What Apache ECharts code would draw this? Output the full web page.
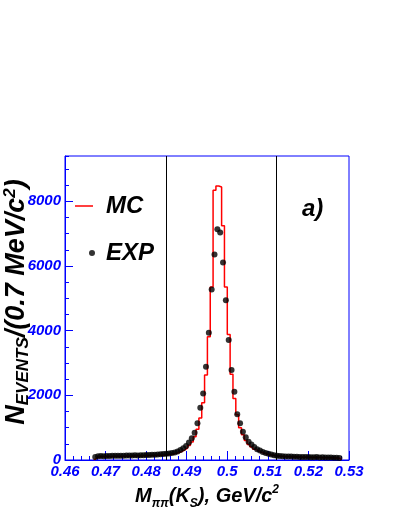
<!DOCTYPE html>
<html>
<head>
<meta charset="utf-8">
<script src="https://cdn.jsdelivr.net/npm/echarts@6/dist/echarts.min.js"></script>
<style>
html,body{margin:0;padding:0;background:#fff;}
#chart{width:399px;height:516px;}
</style>
</head>
<body>
<div id="chart"></div>
<script>
// Histogram binning (GeV/c^2)
const binStart = 0.4671;
const binWidth = 0.0007;

// MC histogram counts per bin
const mcCounts = [
  60, 95, 100, 102, 105, 104, 108, 110, 112, 112,
  115, 116, 118, 120, 122, 124, 126, 128, 130, 133,
  136, 140, 145, 150, 155, 160, 170, 185, 205, 230,
  265, 310, 370, 450, 560, 720, 950, 1300, 1770, 2625,
  3809, 5353, 8340, 8470, 8440, 7240, 5353, 3883, 2650, 1900,
  1400, 1000, 780, 600, 480, 400, 330, 280, 240, 210,
  185, 165, 150, 135, 125, 115, 108, 102, 98, 95,
  92, 90, 88, 86, 84, 82, 80, 78, 76, 74,
  72, 70, 68, 66, 64, 62, 40
];

// Experimental counts per bin
const expCounts = [
  90, 115, 120, 118, 125, 122, 130, 128, 132, 135,
  130, 138, 140, 136, 145, 142, 148, 150, 155, 152,
  160, 165, 170, 175, 182, 190, 200, 215, 235, 265,
  310, 365, 435, 540, 669, 843, 1134, 1615, 2060, 2882,
  3932, 5273, 6354, 7135, 7033, 6107, 4942, 3707, 2780, 2110,
  1412, 1134, 874, 701, 565, 480, 400, 335, 290, 250,
  220, 192, 168, 150, 135, 125, 118, 112, 110, 105,
  100, 98, 95, 96, 92, 90, 88, 85, 90, 80,
  82, 78, 75, 80, 72, 70, 65
];

// Selection cut positions
const cutLines = [0.485, 0.512];

// Axis settings
const xMin = 0.46, xMax = 0.53, xStep = 0.01;
const yMin = 0, yMax = 9400, yStep = 2000, yMinorStep = 500;

const mcData = [[binStart, 0]];
mcCounts.forEach((v, i) => mcData.push([binStart + i * binWidth, v]));
mcData.push([binStart + mcCounts.length * binWidth, mcCounts[mcCounts.length - 1]]);
mcData.push([binStart + mcCounts.length * binWidth, 0]);

const expData = expCounts.map((v, i) => [binStart + (i + 0.5) * binWidth, v]);

const FONT = '"Liberation Sans", Arial, Helvetica, sans-serif';
const BLUE = '#0000ff';

const titleRich = (big, small, lh) => ({
  b: {fontFamily: FONT, fontSize: big, fontWeight: 'bold', fontStyle: 'italic', fill: '#000', color: '#000', lineHeight: lh},
  s: {fontFamily: FONT, fontSize: small, fontWeight: 'bold', fontStyle: 'italic', fill: '#000', color: '#000', verticalAlign: 'bottom', lineHeight: small},
  p: {fontFamily: FONT, fontSize: small, fontWeight: 'bold', fontStyle: 'italic', fill: '#000', color: '#000', verticalAlign: 'top', lineHeight: small}
});

const chart = echarts.init(document.getElementById('chart'), null, {renderer: 'canvas'});
chart.setOption({
  animation: false,
  backgroundColor: '#ffffff',
  grid: {left: 65, right: 50, top: 156, bottom: 56, show: true, borderColor: BLUE, borderWidth: 1,
         backgroundColor: 'transparent', containLabel: false, outerBoundsMode: 'none'},
  xAxis: {
    type: 'value', min: xMin, max: xMax, interval: xStep,
    axisLine: {show: true, lineStyle: {color: BLUE, width: 1}},
    axisTick: {show: true, inside: true, length: 9, lineStyle: {color: BLUE}},
    minorTick: {show: true, splitNumber: 5, length: 4, lineStyle: {color: BLUE}},
    splitLine: {show: false},
    axisLabel: {
      color: BLUE, fontFamily: FONT, fontSize: 15, fontWeight: 'bold', fontStyle: 'italic', margin: 4,
      formatter: v => String(Math.round(v * 100) / 100)
    },
    name: '{b|M}{s|ππ}{b|(K}{s|S}{b|), GeV/c}{p|2}',
    nameLocation: 'middle', nameGap: 21,
    nameTextStyle: {rich: titleRich(20, 12, 26)}
  },
  yAxis: [{
    type: 'value', min: yMin, max: yMax, interval: yStep,
    axisLine: {show: true, lineStyle: {color: BLUE, width: 1}},
    axisTick: {show: true, inside: true, length: 8, lineStyle: {color: BLUE}},
    splitLine: {show: false},
    axisLabel: {
      color: BLUE, fontFamily: FONT, fontSize: 15, fontWeight: 'bold', fontStyle: 'italic', margin: 4,
      showMaxLabel: false, formatter: v => String(v)
    }
  }, {
    type: 'value', min: yMin, max: yMax, interval: yMinorStep, position: 'left',
    axisLine: {show: false},
    axisTick: {show: true, inside: true, length: 4, lineStyle: {color: BLUE}},
    splitLine: {show: false},
    axisLabel: {show: false}
  }],
  legend: [{
    data: [{name: 'MC', icon: 'path://M0,0 L18,0 L18,1.5 L0,1.5 Z'}],
    left: 75, top: 194, padding: 0, itemWidth: 18, itemHeight: 1.5, selectedMode: false,
    textStyle: {fontFamily: FONT, fontSize: 24, fontWeight: 'bold', fontStyle: 'italic', color: '#000', padding: [0, 0, 0, 8]}
  }, {
    data: [{name: 'EXP', icon: 'circle'}],
    left: 89, top: 241, padding: 0, itemWidth: 6, itemHeight: 6, selectedMode: false,
    textStyle: {fontFamily: FONT, fontSize: 24, fontWeight: 'bold', fontStyle: 'italic', color: '#000', padding: [0, 0, 0, 6]}
  }],
  graphic: [{
    type: 'text', left: 302, top: 197,
    style: {text: 'a)', font: 'italic bold 24px ' + FONT, fill: '#000'}
  }, {
    type: 'text', x: 17, y: 302, rotation: Math.PI / 2,
    style: {
      text: '{b|N}{s|EVENTS}{b|/(0.7 MeV/c}{p|2}{b|)}',
      align: 'center', verticalAlign: 'middle',
      rich: titleRich(27, 17, 30)
    }
  }],
  series: [{
    name: 'MC', type: 'line', step: 'end', data: mcData,
    symbol: 'none', itemStyle: {color: '#ff0000'},
    lineStyle: {color: '#ff0000', width: 1.5},
    z: 2,
    markLine: {
      silent: true, symbol: 'none', animation: false, precision: 4,
      label: {show: false},
      lineStyle: {color: '#000', width: 1, type: 'solid'},
      data: cutLines.map(x => ({xAxis: x}))
    }
  }, {
    name: 'EXP', type: 'scatter', data: expData,
    symbol: 'circle', symbolSize: 6,
    itemStyle: {color: '#000'}, z: 3
  }]
});
</script>
</body>
</html>
